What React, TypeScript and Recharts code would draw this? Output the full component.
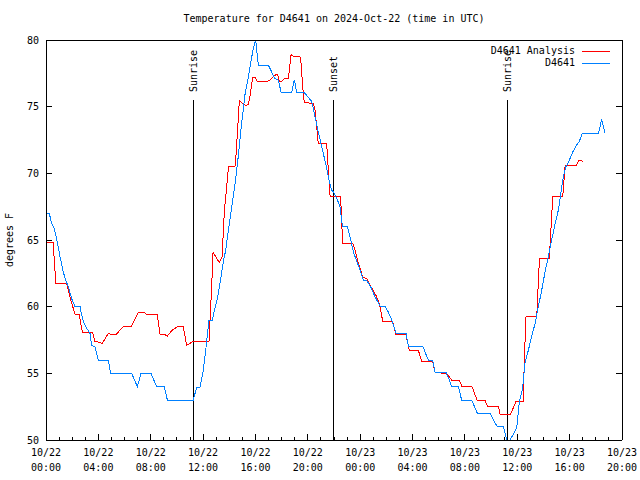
import { LineChart, Line, XAxis, YAxis, ReferenceLine } from "recharts"

const FONT = "'DejaVu Sans Mono', 'Liberation Mono', monospace"

// hours since 10/22 00:00 UTC
const analysisHours = [
  0, 0.56, 0.64, 0.76, 1.58, 1.83, 2.01, 2.22, 2.55, 2.65, 2.78, 3.54, 3.74, 4.0, 4.3, 4.76, 5.01, 5.4, 5.65, 5.98,
  6.54, 7.05, 7.56, 7.69, 8.5, 8.71, 9.09, 9.27, 9.6, 10.03, 10.49, 10.74, 10.9, 11.25, 12.45, 12.66, 12.76, 13.0,
  13.24, 13.45, 13.62, 13.8, 13.93, 14.0, 14.44, 14.51, 14.77, 15.08, 15.28, 15.46, 15.58, 15.79, 15.97, 16.14, 16.91,
  17.1, 17.55, 17.7, 17.82, 18.0, 18.2, 18.51, 18.72, 18.97, 19.4, 19.48, 19.61, 19.73, 20.42, 20.55, 20.8, 21.44,
  21.57, 21.7, 22.46, 22.54, 22.66, 23.43, 23.6, 23.86, 24.19, 24.5, 24.88, 25.26, 25.52, 25.72, 26.48, 26.74, 27.5,
  27.76, 28.45, 28.7, 29.54, 29.72, 30.61, 30.99, 31.58, 31.75, 32.52, 32.95, 33.54, 33.71, 34.55, 34.68, 35.5, 35.9,
  36.46, 36.54, 36.67, 37.49, 37.66, 37.71, 38.45, 38.71, 39.47, 39.65, 40.49, 40.74, 41.0,
]
const analysisTemps = [
  64.85, 64.85, 63.25, 61.75, 61.75, 60.75, 60.1, 59.45, 59.45, 58.75, 58.1, 58.1, 57.4, 57.35, 57.25, 58.0, 57.9, 57.95,
  58.25, 58.55, 58.55, 59.55, 59.55, 59.4, 59.4, 57.95, 57.9, 57.8, 58.2, 58.5, 58.5, 57.1, 57.2, 57.4, 57.4, 61.6, 64.05,
  63.7, 63.3, 63.75, 67.1, 69.0, 70.4, 70.55, 70.55, 71.25, 75.45, 75.2, 75.05, 75.2, 75.75, 77.2, 77.2, 76.9, 76.9, 77.0,
  77.4, 77.4, 76.9, 76.9, 77.1, 77.1, 78.9, 78.75, 78.75, 78.25, 76.5, 75.3, 75.25, 74.75, 72.25, 72.25, 70.25, 68.3,
  68.3, 67.5, 64.75, 64.75, 64.25, 63.25, 62.25, 62.1, 61.4, 60.75, 60.0, 58.9, 58.9, 57.9, 57.9, 56.7, 56.7, 55.9, 55.9,
  55.05, 55.0, 54.5, 54.5, 54.05, 54.05, 52.95, 52.95, 52.55, 52.55, 51.95, 51.95, 52.9, 52.9, 56.1, 59.3, 59.3, 62.9,
  63.6, 63.6, 68.25, 68.25, 70.55, 70.6, 71.0, 70.9,
]

const stationHours = [
  0, 0.25, 0.43, 0.61, 0.81, 1.07, 1.32, 1.53, 1.71, 1.96, 2.22, 2.6, 2.72, 2.85, 3.1, 3.36, 3.49, 3.74, 4.0, 4.76, 4.94,
  6.54, 6.98, 7.26, 8.02, 8.45, 9.04, 9.27, 11.25, 11.51, 11.76, 12.02, 12.22, 12.45, 12.7, 12.91, 13.12, 13.37, 13.55,
  13.73, 13.93, 14.18, 14.44, 14.69, 14.95, 15.2, 15.46, 15.66, 15.84, 16.02, 16.22, 16.99, 17.24, 17.49, 17.75, 17.95,
  18.77, 18.97, 19.15, 19.66, 19.86, 20.3, 20.55, 20.8, 21.06, 21.36, 21.62, 21.82, 21.95, 22.26, 22.46, 22.64, 23.02,
  23.22, 23.48, 23.86, 24.24, 24.5, 24.8, 25.13, 25.52, 25.9, 26.15, 26.41, 26.74, 27.5, 27.68, 28.78, 28.95, 29.21,
  29.54, 29.72, 30.56, 30.79, 30.99, 31.5, 31.75, 32.52, 32.95, 33.92, 34.17, 34.48, 34.94, 35.19, 35.3, 35.45, 35.96,
  36.16, 36.39, 36.59, 36.85, 37.1, 37.36, 37.61, 37.87, 38.12, 38.37, 38.63, 38.89, 39.14, 39.34, 39.52, 39.72, 39.98,
  40.24, 40.49, 40.74, 40.97, 42.2, 42.45, 42.7,
]
const stationTemps = [
  67.0, 67.0, 66.25, 65.9, 65.1, 63.75, 62.6, 61.9, 61.5, 60.6, 60.0, 60.0, 59.4, 58.9, 58.4, 58.0, 57.1, 57.0, 56.0,
  56.0, 55.0, 55.0, 54.0, 55.0, 55.0, 54.0, 54.0, 53.0, 53.0, 53.95, 53.95, 55.25, 56.9, 59.0, 59.0, 59.9, 60.75, 62.25,
  63.4, 64.25, 65.75, 67.4, 69.2, 71.3, 73.8, 75.9, 77.25, 78.4, 79.4, 80.0, 78.1, 78.1, 77.6, 77.1, 77.0, 76.1, 76.1,
  77.0, 76.1, 76.1, 75.9, 75.4, 74.25, 73.1, 72.0, 70.75, 69.5, 68.75, 68.6, 68.0, 67.5, 66.05, 66.05, 65.25, 64.1,
  63.1, 62.0, 61.95, 61.5, 60.75, 60.05, 60.0, 59.6, 59.0, 58.0, 58.0, 57.05, 57.05, 56.6, 56.0, 56.0, 55.05, 55.05,
  54.55, 54.0, 54.0, 53.0, 53.0, 52.0, 52.0, 51.5, 51.0, 51.0, 50.0, 49.7, 50.0, 50.9, 52.9, 53.75, 55.75, 56.75, 57.75,
  58.75, 60.0, 61.25, 62.6, 63.75, 65.0, 66.25, 67.25, 68.6, 69.75, 70.5, 71.0, 71.6, 72.05, 72.4, 73.0, 73.0, 74.05,
  73.0,
]

const sunHours = [11.23, 21.93, 35.22]
const sunLabels = ["Sunrise", "Sunset", "Sunrise"]

const hourTicks = Array.from({ length: 45 }, (_, i) => i)
const tempTicks = [50, 55, 60, 65, 70, 75, 80]

const analysisData = analysisHours.map((t, i) => ({ t, v: analysisTemps[i] }))
const stationData = stationHours.map((t, i) => ({ t, v: stationTemps[i] }))

const pad = (n: number) => (n < 10 ? "0" + n : "" + n)

function BottomTick({ x, y, payload }: any) {
  const h = payload.value
  const major = h % 4 === 0
  return (
    <g>
      <line x1={x} x2={x} y1={y} y2={y - (major ? 6 : 3)} stroke="#000" shapeRendering="crispEdges" />
      {major && (
        <text x={x} y={y} textAnchor="middle" fontFamily={FONT} fontSize={10} fill="#000">
          <tspan x={x} dy={15.5}>{`10/${22 + Math.floor(h / 24)}`}</tspan>
          <tspan x={x} dy={15}>{`${pad(h % 24)}:00`}</tspan>
        </text>
      )}
    </g>
  )
}

function TopTick({ x, y, payload }: any) {
  const major = payload.value % 4 === 0
  return <line x1={x} x2={x} y1={y} y2={y + (major ? 6 : 3)} stroke="#000" shapeRendering="crispEdges" />
}

function LeftTick({ x, y, payload }: any) {
  return (
    <g>
      <line x1={x} x2={x + 6} y1={y} y2={y} stroke="#000" shapeRendering="crispEdges" />
      <text x={x - 7} y={y} dy={3.5} textAnchor="end" fontFamily={FONT} fontSize={10} fill="#000">
        {payload.value}
      </text>
    </g>
  )
}

function RightTick({ x, y }: any) {
  return <line x1={x} x2={x - 6} y1={y} y2={y} stroke="#000" shapeRendering="crispEdges" />
}

function SunLabel({ viewBox, text }: any) {
  const x = viewBox.x
  const y = viewBox.y - 8
  return (
    <text
      x={x}
      y={y}
      dy={3.5}
      transform={`rotate(-90, ${x}, ${y})`}
      textAnchor="start"
      fontFamily={FONT}
      fontSize={10}
      fill="#000"
    >
      {text}
    </text>
  )
}

const axisLine = { stroke: "#000", shapeRendering: "crispEdges" }

export default function App() {
  return (
    <div style={{ position: "fixed", left: 0, top: 0, width: 640, height: 480, background: "#fff" }}>
      <div
        style={{
          position: "absolute",
          top: 13,
          left: 0,
          width: 668,
          textAlign: "center",
          fontFamily: FONT,
          fontSize: 10,
          lineHeight: "12px",
        }}
      >
        Temperature for D4641 on 2024-Oct-22 (time in UTC)
      </div>
      <div
        style={{
          position: "absolute",
          left: 10,
          top: 240,
          transform: "translate(-50%, -50%) rotate(-90deg)",
          whiteSpace: "nowrap",
          fontFamily: FONT,
          fontSize: 10,
          lineHeight: "12px",
        }}
      >
        degrees F
      </div>
      <LineChart width={640} height={480} margin={{ top: 0, right: 0, bottom: 0, left: 0 }}>
        <XAxis
          xAxisId="b"
          dataKey="t"
          type="number"
          domain={[0, 44]}
          ticks={hourTicks}
          interval={0}
          allowDataOverflow
          height={40}
          tickSize={0}
          tickMargin={0}
          tickLine={false}
          axisLine={axisLine}
          tick={<BottomTick />}
        />
        <XAxis
          xAxisId="t"
          orientation="top"
          type="number"
          domain={[0, 44]}
          ticks={hourTicks}
          interval={0}
          allowDataOverflow
          height={40}
          tickSize={0}
          tickMargin={0}
          tickLine={false}
          axisLine={axisLine}
          tick={<TopTick />}
        />
        <YAxis
          yAxisId="l"
          type="number"
          domain={[50, 80]}
          ticks={tempTicks}
          interval={0}
          allowDataOverflow
          width={46}
          tickSize={0}
          tickMargin={0}
          tickLine={false}
          axisLine={axisLine}
          tick={<LeftTick />}
        />
        <YAxis
          yAxisId="r"
          orientation="right"
          type="number"
          domain={[50, 80]}
          ticks={tempTicks}
          interval={0}
          allowDataOverflow
          width={18}
          tickSize={0}
          tickMargin={0}
          tickLine={false}
          axisLine={axisLine}
          tick={<RightTick />}
        />
        {sunHours.map((h, i) => (
          <ReferenceLine
            key={i}
            xAxisId="b"
            yAxisId="l"
            segment={[
              { x: h, y: 50 },
              { x: h, y: 75.5 },
            ]}
            stroke="#000"
            strokeWidth={1}
            shapeRendering="crispEdges"
            label={<SunLabel text={sunLabels[i]} />}
          />
        ))}
        <Line
          xAxisId="b"
          yAxisId="l"
          data={analysisData}
          dataKey="v"
          type="linear"
          stroke="#ff0000"
          strokeWidth={1}
          shapeRendering="crispEdges"
          dot={false}
          isAnimationActive={false}
        />
        <Line
          xAxisId="b"
          yAxisId="l"
          data={stationData}
          dataKey="v"
          type="linear"
          stroke="#0080ff"
          strokeWidth={1}
          shapeRendering="crispEdges"
          dot={false}
          isAnimationActive={false}
        />
      </LineChart>
      <div style={{ position: "absolute", left: 0, top: 0, width: 640, height: 480, pointerEvents: "none" }}>
        {[
          { name: "D4641 Analysis", color: "#ff0000", y: 51 },
          { name: "D4641", color: "#0080ff", y: 63 },
        ].map((it) => (
          <div key={it.name}>
            <div
              style={{
                position: "absolute",
                right: 640 - 575,
                top: it.y - 6,
                fontFamily: FONT,
                fontSize: 10,
                lineHeight: "12px",
                whiteSpace: "nowrap",
              }}
            >
              {it.name}
            </div>
            <div
              style={{ position: "absolute", left: 582, top: it.y, width: 28, height: 1, background: it.color }}
            />
          </div>
        ))}
      </div>
    </div>
  )
}
